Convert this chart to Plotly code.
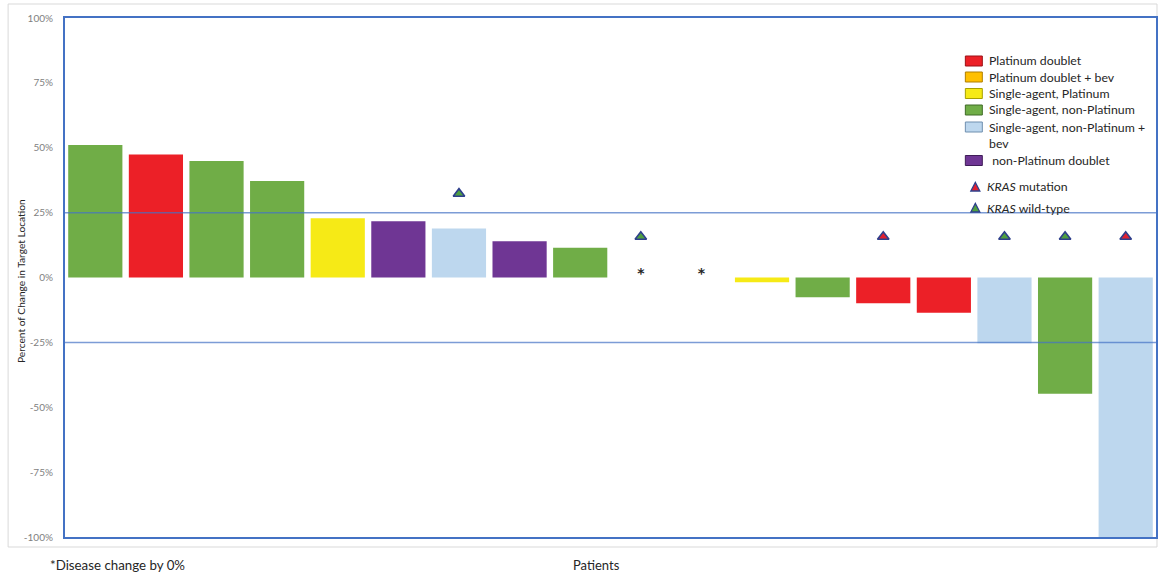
import plotly.graph_objects as go

# Waterfall of best change in target lesions, one bar per patient
patients = list(range(1, 19))
change = [51.1, 47.4, 44.9, 37.2, 22.8, 21.7, 18.9, 14.0, 11.5, 0, 0,
          -1.8, -7.6, -9.9, -13.6, -25.3, -44.8, -100]
regimen = ["Single-agent, non-Platinum", "Platinum doublet", "Single-agent, non-Platinum",
           "Single-agent, non-Platinum", "Single-agent, Platinum", "non-Platinum doublet",
           "Single-agent, non-Platinum + bev", "non-Platinum doublet", "Single-agent, non-Platinum",
           None, None, "Single-agent, Platinum", "Single-agent, non-Platinum",
           "Platinum doublet", "Platinum doublet", "Single-agent, non-Platinum + bev",
           "Single-agent, non-Platinum", "Single-agent, non-Platinum + bev"]

# KRAS status markers
kras_patients = [7, 10, 14, 16, 17, 18]
kras_status = ["wild-type", "wild-type", "mutation", "wild-type", "wild-type", "mutation"]
kras_y = [32.3, 15.7, 15.7, 15.7, 15.7, 15.7]

# Patients with no change in disease
zero_patients = [10, 11]
zero_mark_y = [1.2, 1.2]

legend_entries = ["Platinum doublet", "Platinum doublet + bev", "Single-agent, Platinum",
                  "Single-agent, non-Platinum", "Single-agent, non-Platinum + bev",
                  "non-Platinum doublet"]
y_ticks = [100, 75, 50, 25, 0, -25, -50, -75, -100]
y_tick_labels = ["100%", "75%", "50%", "25%", "0%", "-25%", "-50%", "-75%", "-100%"]

fill = {
    "Platinum doublet": "#EC2027",
    "Platinum doublet + bev": "#FFC000",
    "Single-agent, Platinum": "#F6EA16",
    "Single-agent, non-Platinum": "#70AD47",
    "Single-agent, non-Platinum + bev": "#BDD7EE",
    "non-Platinum doublet": "#6F3694",
}
edge = {
    "Platinum doublet": "#9B1116",
    "Platinum doublet + bev": "#B07F00",
    "Single-agent, Platinum": "#A8A000",
    "Single-agent, non-Platinum": "#3F6B26",
    "Single-agent, non-Platinum + bev": "#6F8FAF",
    "non-Platinum doublet": "#3F1D58",
}
kras_fill = {"mutation": "#E02030", "wild-type": "#4FA040"}
FRAME = "#4472C4"
FONT = "Lato"

W, H = 1160, 579
L, R, T, B = 65, 2, 18, 42
pw, ph = W - L - R, H - T - B


def px(x):
    return (x - L) / pw


def py(y):
    return (H - B - y) / ph


fig = go.Figure()

fig.add_trace(go.Bar(
    x=patients, y=change,
    marker=dict(color=[fill.get(r, "rgba(0,0,0,0)") for r in regimen], line=dict(width=0)),
    width=0.894, showlegend=False, hoverinfo="x+y",
))

fig.add_trace(go.Scatter(
    x=kras_patients, y=kras_y, mode="markers",
    marker=dict(symbol="triangle-up", size=10,
                color=[kras_fill[s] for s in kras_status],
                line=dict(color="#2E3F8C", width=1.6)),
    showlegend=False, hoverinfo="x+y",
))

fig.add_trace(go.Scatter(
    x=zero_patients, y=zero_mark_y, mode="text", text=["<b>*</b>"] * len(zero_patients),
    textfont=dict(family="DejaVu Sans", size=14, color="#262626"),
    showlegend=False, hoverinfo="skip",
))

shapes = []
# Outer light chart border
shapes.append(dict(type="rect", xref="paper", yref="paper",
                   x0=px(8), x1=px(1159), y0=py(547), y1=py(4),
                   line=dict(color="#D9D9D9", width=1), layer="below"))
# Reference lines at +/-25 %
for yv in (25, -25):
    shapes.append(dict(type="line", xref="paper", yref="y", x0=0, x1=1, y0=yv, y1=yv,
                       line=dict(color="rgba(68,114,196,0.7)", width=1.5), layer="above"))

annotations = []

# Manual legend: regimen swatches
legend_rows = [61, 77, 93.5, 110, 127, 160.5]
for name, yc in zip(legend_entries, legend_rows):
    shapes.append(dict(type="rect", xref="paper", yref="paper",
                       x0=px(967), x1=px(984), y0=py(yc + 5), y1=py(yc - 5),
                       fillcolor=fill[name], line=dict(color=edge[name], width=1)))
legend_text = ["Platinum doublet", "Platinum doublet + bev", "Single-agent, Platinum",
               "Single-agent, non-Platinum", "Single-agent, non-Platinum +<br>bev",
               " non-Platinum doublet"]
text_rows = [61, 77, 93.5, 110, 135.5, 160.5]
for txt, yc in zip(legend_text, text_rows):
    annotations.append(dict(xref="paper", yref="paper", x=px(989), y=py(yc),
                            text=txt, showarrow=False, xanchor="left", yanchor="middle",
                            align="left",
                            font=dict(family=FONT, size=12.3, color="#262626")))

# Manual legend: KRAS triangles
for status, yc in (("mutation", 187), ("wild-type", 208)):
    xc = 977
    path = f"M {px(xc - 4.5)},{py(yc + 4)} L {px(xc + 4.5)},{py(yc + 4)} L {px(xc)},{py(yc - 4.5)} Z"
    shapes.append(dict(type="path", xref="paper", yref="paper", path=path,
                       fillcolor=kras_fill[status], line=dict(color="#2E3F8C", width=1.3)))
    annotations.append(dict(xref="paper", yref="paper", x=px(987), y=py(yc),
                            text=f"<i>KRAS</i> {status}", showarrow=False,
                            xanchor="left", yanchor="middle",
                            font=dict(family=FONT, size=12.3, color="#262626")))

# Axis titles and footnote
annotations.append(dict(xref="paper", yref="paper", x=px(21), y=py(281),
                        text="Percent of Change in Target Location", textangle=-90,
                        showarrow=False, xanchor="center", yanchor="middle",
                        font=dict(family=FONT, size=10.2, color="#262626")))
annotations.append(dict(xref="paper", yref="paper", x=px(597), y=py(565),
                        text="Patients", showarrow=False, xanchor="center", yanchor="middle",
                        font=dict(family=FONT, size=13, color="#262626")))
annotations.append(dict(xref="paper", yref="paper", x=px(48), y=py(565),
                        text="*Disease change by 0%", showarrow=False,
                        xanchor="left", yanchor="middle",
                        font=dict(family=FONT, size=13.3, color="#262626")))

fig.update_layout(
    width=W, height=H,
    margin=dict(l=L, r=R, t=T, b=B),
    paper_bgcolor="white", plot_bgcolor="white",
    shapes=shapes, annotations=annotations,
    xaxis=dict(range=[0.5, 18.5], showticklabels=False, ticks="", showgrid=False,
               zeroline=False, showline=True, mirror=True,
               linecolor=FRAME, linewidth=2),
    yaxis=dict(range=[-100, 100], tickmode="array", tickvals=y_ticks, ticktext=y_tick_labels,
               showgrid=False, zeroline=False, showline=True, mirror=True,
               linecolor=FRAME, linewidth=2,
               ticks="outside", ticklen=8, tickcolor="rgba(0,0,0,0)",
               tickfont=dict(family=FONT, size=10, color="#7F7F7F")),
    bargap=0.1,
    showlegend=False,
)

fig.write_html("out.html")
